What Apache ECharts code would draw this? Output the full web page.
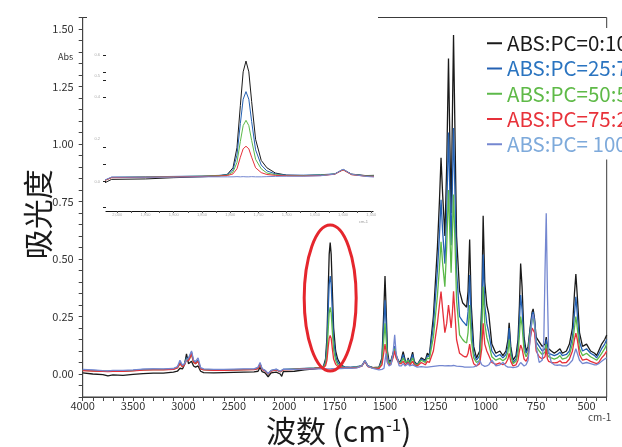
<!DOCTYPE html>
<html>
<head>
<meta charset="utf-8">
<script src="https://cdn.jsdelivr.net/npm/echarts@6/dist/echarts.min.js"></script>
<style>
html,body{margin:0;padding:0;background:#fff;}
#ftir{width:622px;height:447px;}
</style>
</head>
<body>
<div id="ftir"></div>
<script>
// 波数 (cm-1), high -> low
var wavenumbers = [
  4000, 3900, 3800, 3750, 3700, 3600, 3500, 3400, 3300, 3200, 3100,
  3060, 3035, 3010, 2990, 2970, 2950, 2935, 2920, 2900, 2880, 2855, 2830, 2800,
  2700, 2600, 2500, 2400, 2300, 2260, 2240, 2220, 2190, 2160, 2130, 2080, 2040, 2025, 2010,
  1950, 1900, 1850, 1820, 1805, 1795, 1788, 1782, 1777, 1772, 1767, 1762, 1755, 1745, 1735, 1720,
  1700, 1670, 1640, 1615, 1600, 1585, 1560, 1530, 1515, 1505,
  1500, 1495, 1488, 1480, 1470, 1460, 1452, 1445, 1430, 1420,
  1410, 1400, 1392, 1385, 1378, 1370, 1363, 1355, 1340, 1320,
  1300, 1290, 1280, 1260, 1240, 1230, 1222, 1214, 1203, 1194,
  1185, 1178, 1172, 1166, 1160, 1152, 1145, 1130, 1115, 1105,
  1095, 1088, 1080, 1072, 1060, 1046,
  1030, 1020, 1013, 1005, 995, 985, 970, 950, 930, 915,
  900, 890, 884, 876, 865, 850, 840, 833, 827, 820,
  810, 800, 790, 780, 770, 765, 758, 750, 735, 720,
  712, 706, 700, 694, 688, 675, 660, 645, 632, 620,
  600, 585, 570, 560, 553, 546, 535, 520, 500, 480,
  460, 450, 440, 425, 410, 400
];

var pc100 = [ // ABS:PC=0:100
  0.005, 0.000, -0.003, -0.008, -0.004, -0.006, -0.002, 0.002, 0.004, 0.004, 0.008,
  0.012, 0.025, 0.022, 0.040, 0.087, 0.045, 0.050, 0.055, 0.035, 0.030, 0.035, 0.012, 0.006,
  0.005, 0.006, 0.007, 0.008, 0.009, 0.012, 0.030, 0.010, 0.005, -0.012, 0.005, 0.008, 0.000, -0.010, 0.010,
  0.012, 0.018, 0.022, 0.026, 0.034, 0.065, 0.160, 0.360, 0.520, 0.571, 0.520, 0.380, 0.200, 0.100, 0.065, 0.040,
  0.030, 0.028, 0.030, 0.035, 0.057, 0.035, 0.028, 0.030, 0.070, 0.300,
  0.426, 0.300, 0.100, 0.055, 0.060, 0.090, 0.120, 0.080, 0.050, 0.060,
  0.097, 0.060, 0.045, 0.070, 0.045, 0.050, 0.095, 0.055, 0.040, 0.070,
  0.060, 0.090, 0.080, 0.250, 0.550, 0.750, 0.940, 0.780, 0.600, 0.900,
  1.372, 1.000, 0.700, 1.100, 1.474, 1.000, 0.600, 0.360, 0.310, 0.300,
  0.290, 0.360, 0.585, 0.300, 0.120, 0.070,
  0.100, 0.300, 0.688, 0.400, 0.300, 0.260, 0.130, 0.090, 0.100, 0.080,
  0.100, 0.150, 0.223, 0.120, 0.060, 0.080, 0.150, 0.300, 0.480, 0.380,
  0.160, 0.100, 0.120, 0.200, 0.270, 0.283, 0.240, 0.160, 0.140, 0.120,
  0.120, 0.130, 0.160, 0.120, 0.110, 0.100, 0.090, 0.100, 0.110, 0.090,
  0.100, 0.130, 0.200, 0.350, 0.435, 0.340, 0.180, 0.120, 0.130, 0.100,
  0.090, 0.080, 0.100, 0.130, 0.150, 0.170
];

var pc75 = [ // ABS:PC=25:75
  0.018, 0.016, 0.013, 0.012, 0.015, 0.014, 0.016, 0.020, 0.021, 0.020, 0.022,
  0.030, 0.050, 0.035, 0.045, 0.070, 0.065, 0.080, 0.095, 0.055, 0.050, 0.060, 0.025, 0.020,
  0.018, 0.018, 0.019, 0.020, 0.021, 0.025, 0.045, 0.022, 0.015, 0.000, 0.015, 0.020, 0.010, 0.002, 0.020,
  0.022, 0.024, 0.026, 0.029, 0.033, 0.055, 0.125, 0.275, 0.390, 0.426, 0.390, 0.285, 0.150, 0.078, 0.050, 0.036,
  0.030, 0.030, 0.032, 0.036, 0.057, 0.034, 0.027, 0.028, 0.060, 0.230,
  0.320, 0.230, 0.080, 0.050, 0.055, 0.085, 0.120, 0.080, 0.050, 0.055,
  0.085, 0.055, 0.045, 0.065, 0.043, 0.048, 0.085, 0.050, 0.040, 0.065,
  0.055, 0.080, 0.075, 0.210, 0.450, 0.600, 0.757, 0.620, 0.480, 0.700,
  1.050, 0.780, 0.560, 0.800, 1.070, 0.750, 0.450, 0.250, 0.230, 0.220,
  0.210, 0.270, 0.430, 0.220, 0.090, 0.060,
  0.080, 0.240, 0.520, 0.300, 0.220, 0.180, 0.100, 0.075, 0.085, 0.070,
  0.085, 0.120, 0.200, 0.100, 0.050, 0.065, 0.120, 0.230, 0.343, 0.280,
  0.130, 0.090, 0.110, 0.190, 0.260, 0.270, 0.230, 0.140, 0.120, 0.100,
  0.100, 0.110, 0.150, 0.100, 0.090, 0.085, 0.080, 0.085, 0.095, 0.080,
  0.085, 0.100, 0.160, 0.260, 0.336, 0.260, 0.140, 0.100, 0.110, 0.090,
  0.080, 0.070, 0.085, 0.110, 0.130, 0.150
];

var pc50 = [ // ABS:PC=50:50
  0.016, 0.014, 0.012, 0.011, 0.013, 0.013, 0.015, 0.018, 0.019, 0.019, 0.021,
  0.028, 0.045, 0.032, 0.042, 0.065, 0.060, 0.072, 0.085, 0.050, 0.045, 0.055, 0.023, 0.019,
  0.017, 0.017, 0.018, 0.019, 0.020, 0.024, 0.043, 0.021, 0.014, 0.000, 0.014, 0.019, 0.010, 0.002, 0.019,
  0.021, 0.023, 0.025, 0.028, 0.030, 0.045, 0.090, 0.190, 0.265, 0.290, 0.265, 0.195, 0.105, 0.060, 0.040, 0.032,
  0.028, 0.028, 0.030, 0.035, 0.056, 0.033, 0.026, 0.026, 0.050, 0.160,
  0.220, 0.160, 0.065, 0.045, 0.050, 0.080, 0.110, 0.075, 0.048, 0.050,
  0.070, 0.050, 0.042, 0.060, 0.040, 0.045, 0.070, 0.045, 0.038, 0.060,
  0.050, 0.070, 0.065, 0.160, 0.340, 0.460, 0.575, 0.480, 0.380, 0.550,
  0.800, 0.600, 0.440, 0.600, 0.780, 0.550, 0.320, 0.170, 0.150, 0.140,
  0.135, 0.180, 0.300, 0.150, 0.070, 0.050,
  0.060, 0.180, 0.380, 0.220, 0.160, 0.130, 0.075, 0.060, 0.068, 0.058,
  0.068, 0.095, 0.150, 0.080, 0.045, 0.055, 0.090, 0.170, 0.250, 0.210,
  0.100, 0.075, 0.095, 0.170, 0.235, 0.245, 0.210, 0.120, 0.100, 0.085,
  0.085, 0.095, 0.130, 0.085, 0.075, 0.070, 0.065, 0.070, 0.080, 0.065,
  0.070, 0.085, 0.130, 0.200, 0.250, 0.200, 0.110, 0.080, 0.090, 0.075,
  0.065, 0.060, 0.070, 0.090, 0.110, 0.130
];

var pc25 = [ // ABS:PC=75:25
  0.015, 0.013, 0.011, 0.010, 0.012, 0.012, 0.014, 0.017, 0.018, 0.018, 0.020,
  0.027, 0.045, 0.031, 0.040, 0.060, 0.058, 0.070, 0.090, 0.050, 0.045, 0.055, 0.022, 0.018,
  0.016, 0.016, 0.017, 0.018, 0.019, 0.023, 0.042, 0.020, 0.013, 0.000, 0.013, 0.018, 0.010, 0.002, 0.018,
  0.020, 0.022, 0.024, 0.026, 0.028, 0.036, 0.060, 0.115, 0.155, 0.167, 0.155, 0.115, 0.065, 0.042, 0.033, 0.029,
  0.027, 0.026, 0.028, 0.034, 0.055, 0.032, 0.025, 0.024, 0.040, 0.100,
  0.130, 0.100, 0.050, 0.040, 0.045, 0.070, 0.100, 0.070, 0.045, 0.045,
  0.055, 0.040, 0.040, 0.050, 0.038, 0.042, 0.055, 0.040, 0.035, 0.050,
  0.040, 0.055, 0.050, 0.100, 0.220, 0.300, 0.358, 0.280, 0.180, 0.220,
  0.300, 0.250, 0.200, 0.260, 0.360, 0.250, 0.150, 0.090, 0.080, 0.075,
  0.075, 0.090, 0.130, 0.080, 0.045, 0.035,
  0.045, 0.110, 0.220, 0.130, 0.100, 0.080, 0.050, 0.042, 0.048, 0.040,
  0.048, 0.065, 0.090, 0.055, 0.035, 0.040, 0.060, 0.100, 0.126, 0.110,
  0.065, 0.055, 0.075, 0.150, 0.200, 0.205, 0.180, 0.100, 0.075, 0.065,
  0.065, 0.075, 0.110, 0.065, 0.055, 0.050, 0.048, 0.050, 0.058, 0.048,
  0.050, 0.065, 0.100, 0.150, 0.178, 0.150, 0.085, 0.060, 0.065, 0.055,
  0.048, 0.045, 0.050, 0.070, 0.085, 0.100
];

var pc0 = [ // ABS:PC= 100:0
  0.020, 0.018, 0.015, 0.014, 0.016, 0.016, 0.018, 0.021, 0.022, 0.022, 0.024,
  0.032, 0.060, 0.038, 0.045, 0.060, 0.070, 0.085, 0.100, 0.060, 0.055, 0.070, 0.028, 0.022,
  0.020, 0.020, 0.021, 0.022, 0.022, 0.030, 0.050, 0.023, 0.016, 0.002, 0.016, 0.021, 0.012, 0.004, 0.021,
  0.020, 0.021, 0.022, 0.022, 0.022, 0.022, 0.023, 0.022, 0.023, 0.022, 0.022, 0.023, 0.022, 0.022, 0.023, 0.024,
  0.025, 0.025, 0.027, 0.035, 0.058, 0.034, 0.024, 0.018, 0.020, 0.025,
  0.030, 0.090, 0.050, 0.035, 0.040, 0.090, 0.170, 0.090, 0.035, 0.035,
  0.045, 0.035, 0.035, 0.045, 0.035, 0.035, 0.040, 0.033, 0.030, 0.032,
  0.030, 0.030, 0.031, 0.033, 0.035, 0.036, 0.037, 0.036, 0.035, 0.035,
  0.036, 0.036, 0.035, 0.036, 0.037, 0.036, 0.034, 0.033, 0.032, 0.030,
  0.030, 0.030, 0.030, 0.030, 0.031, 0.035,
  0.060, 0.040, 0.035, 0.033, 0.035, 0.040, 0.060, 0.035, 0.040, 0.050,
  0.035, 0.030, 0.030, 0.030, 0.028, 0.030, 0.033, 0.040, 0.050, 0.045,
  0.035, 0.040, 0.060, 0.150, 0.240, 0.260, 0.220, 0.120, 0.050, 0.060,
  0.150, 0.450, 0.699, 0.350, 0.100, 0.050, 0.040, 0.038, 0.040, 0.035,
  0.035, 0.045, 0.060, 0.090, 0.110, 0.090, 0.060, 0.045, 0.050, 0.045,
  0.040, 0.040, 0.045, 0.055, 0.065, 0.070
];

var seriesNames = ['ABS:PC=0:100', 'ABS:PC=25:75', 'ABS:PC=50:50', 'ABS:PC=75:25', 'ABS:PC= 100:0'];
var seriesValues = [pc100, pc75, pc50, pc25, pc0];
var lineColors = ['#1a1a1a', '#2461b3', '#5cb94a', '#e6303a', '#7487d0'];
var legendColors = ['#1a1a1a', '#2a74c0', '#5fba48', '#e8323a', '#7eaadb'];

var xTickLabels = ['4000', '3500', '3000', '2500', '2000', '1750', '1500', '1250', '1000', '750', '500'];
var yTickLabels = [0, 0.25, 0.5, 0.75, 1.0, 1.25, 1.5];
var insetXLabels = [2000, 1950, 1900, 1850, 1800, 1750, 1700, 1650, 1600, 1550];
var insetYLabels = [0, 0.2, 0.4, 0.5, 0.6];
var insetYTicks = [-0.12, 0, 0.08, 0.16, 0.4, 0.48, 0.52, 0.6];
var circledBand = [1772, 0.33]; // 红圈标注的位置

// 横轴在 2000 处换比例: 4000-2000 每格 500, 2000-400 每格 250
function toU(w) {
  return w >= 2000 ? (4000 - w) / 500 : 4 + (2000 - w) / 250;
}
var xTicks = [], yTicks = [], insetXTicks = [];
for (var k = 0; k <= 52; k++) xTicks.push(Math.round(k * 2) / 10);
for (var k = 0; k <= 33; k++) yTicks.push(Math.round((-0.1 + k * 0.05) * 100) / 100);
for (var k = 0; k <= 18; k++) insetXTicks.push(2000 - k * 25);

var FONT = '"Noto Sans CJK SC", "Noto Sans", sans-serif';

var series = [];
seriesValues.forEach(function (vals, s) {
  series.push({
    name: seriesNames[s], type: 'line', xAxisIndex: 0, yAxisIndex: 0,
    data: wavenumbers.map(function (w, i) { return [toU(w), vals[i]]; }),
    symbol: 'none', silent: true, animation: false,
    lineStyle: { width: 1.3, color: lineColors[s] }, itemStyle: { color: lineColors[s] }
  });
});
seriesValues.forEach(function (vals, s) {
  var pts = [];
  wavenumbers.forEach(function (w, i) { if (w <= 2040 && w >= 1500) pts.push([w, vals[i]]); });
  series.push({
    name: seriesNames[s], type: 'line', xAxisIndex: 1, yAxisIndex: 1,
    data: pts, symbol: 'none', silent: true, animation: false, z: 7,
    lineStyle: { width: 1, color: lineColors[s] }, itemStyle: { color: lineColors[s] }
  });
});

var chart = echarts.init(document.getElementById('ftir'));
var option = {
  backgroundColor: '#fff',
  animation: false,
  grid: [
    { left: 82.7, right: 15.3, top: 17.5, bottom: 50, show: true, borderColor: '#3a3a3a', borderWidth: 1, outerBoundsMode: 'none' },
    { left: 106, right: 249, top: 17, bottom: 236, outerBoundsMode: 'none' }
  ],
  legend: {
    orient: 'vertical', left: 482, top: 28, padding: 5, backgroundColor: '#fff', z: 8,
    icon: 'rect', itemWidth: 15, itemHeight: 2, itemGap: 4.75,
    textStyle: { fontSize: 20.5, lineHeight: 20, fontFamily: FONT },
    data: seriesNames.map(function (n, i) { return { name: n, textStyle: { color: legendColors[i] } }; })
  },
  xAxis: [
    {
      gridIndex: 0, type: 'value', min: 0, max: 10.4,
      axisLine: { onZero: false, lineStyle: { color: '#444', width: 1 } },
      axisTick: { customValues: xTicks, length: 4, lineStyle: { color: '#444' } },
      axisLabel: {
        customValues: [0, 1, 2, 3, 4, 5, 6, 7, 8, 9, 10], margin: 3,
        fontSize: 11, color: '#333', fontFamily: FONT,
        formatter: function (v) { return xTickLabels[Math.round(v)]; }
      },
      splitLine: { show: false },
      name: '波数 (cm{sup|-1})', nameLocation: 'middle', nameGap: 15,
      nameTextStyle: {
        fontSize: 30, color: '#1a1a1a', fontFamily: FONT, padding: [0, 12, 0, 0],
        rich: { sup: { fontSize: 17, verticalAlign: 'top', color: '#1a1a1a', fontFamily: FONT, padding: [0, 0, 10, 0] } }
      }
    },
    {
      gridIndex: 1, type: 'value', inverse: true, min: 1547, max: 2020, z: 6,
      axisLine: { onZero: false, lineStyle: { color: '#111', width: 1.2 } },
      axisTick: { customValues: insetXTicks, length: 2, lineStyle: { color: '#555' } },
      axisLabel: { customValues: insetXLabels, fontSize: 4, color: '#aaa', margin: 2 },
      splitLine: { show: false }
    }
  ],
  yAxis: [
    {
      gridIndex: 0, type: 'value', min: -0.1, max: 1.55,
      axisLine: { show: true, onZero: false, lineStyle: { color: '#444', width: 1 } },
      axisTick: { show: true, customValues: yTicks, length: 4, lineStyle: { color: '#444' } },
      axisLabel: {
        customValues: yTickLabels, margin: 9, fontSize: 11, color: '#333', fontFamily: FONT,
        formatter: function (v) { return v.toFixed(2); }
      },
      splitLine: { show: false },
      name: '吸光度', nameLocation: 'middle', nameGap: 30, nameMoveOverlap: false,
      nameTextStyle: { fontSize: 30, color: '#1a1a1a', fontFamily: FONT, padding: [0, 14, 0, 0] }
    },
    {
      gridIndex: 1, type: 'value', min: -0.14, max: 0.78, z: 6,
      axisLine: { show: false },
      axisTick: { show: true, customValues: insetYTicks, length: 3, lineStyle: { color: '#222' } },
      axisLabel: { customValues: insetYLabels, fontSize: 4, color: '#aaa', margin: 6, formatter: function (v) { return v.toFixed(1); } },
      splitLine: { show: false }
    }
  ],
  graphic: [
    { id: 'insetBg', type: 'rect', z: 5, shape: { x: 87, y: 0, width: 291, height: 226 }, style: { fill: '#fff' } },
    { id: 'abs', type: 'text', z: 6, x: 58, y: 52, style: { text: 'Abs', fontSize: 9, fill: '#333', fontFamily: FONT } },
    { id: 'insetUnit', type: 'text', z: 6, x: 359, y: 220, style: { text: 'cm-1', fontSize: 4, fill: '#999' } },
    { id: 'unit', type: 'text', z: 6, x: 588, y: 412, style: { text: 'cm-1', fontSize: 10, fill: '#444', fontFamily: FONT } }
  ],
  series: series
};
chart.setOption(option);

var c = chart.convertToPixel({ gridIndex: 0 }, [toU(circledBand[0]), circledBand[1]]);
chart.setOption({
  graphic: [
    { id: 'ring', type: 'ellipse', z: 20, shape: { cx: c[0], cy: c[1], rx: 26, ry: 73 }, style: { fill: null, stroke: '#e5262d', lineWidth: 3 } }
  ]
});
</script>
</body>
</html>
